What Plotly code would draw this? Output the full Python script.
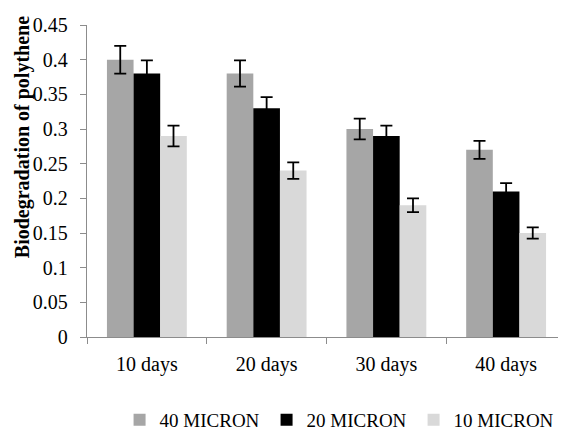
import plotly.graph_objects as go

categories = ["10 days", "20 days", "30 days", "40 days"]
series_names = ["40 MICRON", "20 MICRON", "10 MICRON"]
micron40 = [0.40, 0.38, 0.30, 0.27]
micron20 = [0.38, 0.33, 0.29, 0.21]
micron10 = [0.29, 0.24, 0.19, 0.15]
err40 = [0.020, 0.019, 0.015, 0.013]
err20 = [0.019, 0.016, 0.015, 0.012]
err10 = [0.015, 0.012, 0.010, 0.008]
colors = ["#A6A6A6", "#000000", "#D9D9D9"]

FONT = "Liberation Serif, Times New Roman, serif"

fig = go.Figure()
for name, vals, errs, col in zip(series_names, [micron40, micron20, micron10],
                                 [err40, err20, err10], colors):
    fig.add_trace(go.Bar(
        x=categories, y=vals, name=name,
        marker=dict(color=col, line=dict(width=0)),
        error_y=dict(type="data", array=errs, visible=True,
                     color="#000000", thickness=1.8, width=6),
    ))

fig.update_layout(
    width=558, height=424,
    margin=dict(l=79, r=0, t=17, b=95, autoexpand=False),
    paper_bgcolor="white", plot_bgcolor="white",
    barmode="group", bargap=0.333, bargroupgap=0,
    font=dict(family=FONT, size=20, color="#000000"),
    showlegend=True,
    legend=dict(orientation="h", x=0.068, xanchor="left", y=-0.266, yanchor="middle",
                font=dict(family=FONT, size=19), entrywidth=102, entrywidthmode="pixels",
                traceorder="normal", itemwidth=30),
    xaxis=dict(showline=True, linecolor="#8C8C8C", linewidth=1.3, automargin=False,
               ticks="outside", tickson="boundaries", ticklen=6, tickcolor="#8C8C8C",
               tickfont=dict(family=FONT, size=20), showgrid=False, ticklabelstandoff=9),
    yaxis=dict(range=[0, 0.45], dtick=0.05, showline=True, linecolor="#8C8C8C",
               linewidth=1.3, ticks="outside", ticklen=6, tickcolor="#8C8C8C", automargin=False,
               tickfont=dict(family=FONT, size=20), showgrid=False, zeroline=False,
               ticklabelstandoff=8),
    annotations=[dict(text="<b>Biodegradation of polythene</b>", textangle=-90,
                      xref="paper", yref="paper", x=-0.136, y=0.64,
                      xanchor="center", yanchor="middle", showarrow=False,
                      font=dict(family=FONT, size=20, color="#000000"))],
)

fig.write_html("out.html")
